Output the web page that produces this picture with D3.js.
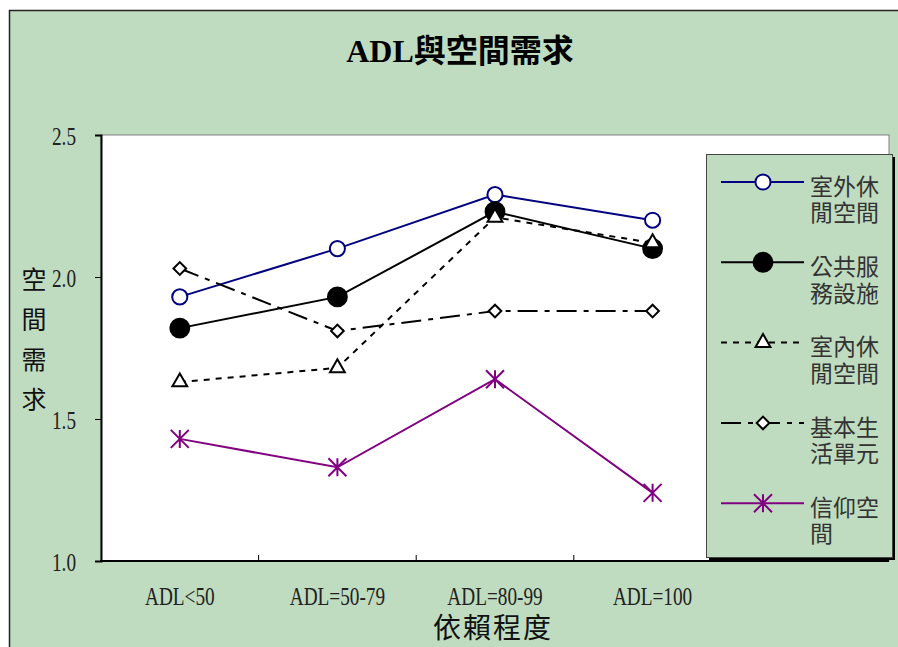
<!DOCTYPE html>
<html>
<head>
<meta charset="utf-8">
<script src="https://cdn.jsdelivr.net/npm/d3@7"></script>
<style>
  body { margin: 0; background: #fff; }
  svg { display: block; }
</style>
</head>
<body>
<svg id="chart" width="898" height="647"></svg>
<script>
// ---- data ----
const categories = ["ADL<50", "ADL=50-79", "ADL=80-99", "ADL=100"];
const seriesNames = ["室外休閒空間", "公共服務設施", "室內休閒空間", "基本生活單元", "信仰空間"];
const outdoorLeisure = [1.93, 2.10, 2.29, 2.20];
const publicService  = [1.82, 1.93, 2.23, 2.10];
const indoorLeisure  = [1.63, 1.68, 2.21, 2.12];
const basicLiving    = [2.03, 1.81, 1.88, 1.88];
const worship        = [1.43, 1.33, 1.64, 1.24];
const yTicks = [1.0, 1.5, 2.0, 2.5];
const chartTitle = "ADL與空間需求";
const xTitle = "依賴程度";
const yTitle = "空間需求";

// ---- look of each series ----
const starSymbol = {
  draw(ctx, size) {
    const r = Math.sqrt(size) / 2;
    ctx.moveTo(0, -r); ctx.lineTo(0, r);
    ctx.moveTo(-r, -r); ctx.lineTo(r, r);
    ctx.moveTo(-r, r); ctx.lineTo(r, -r);
  }
};
const styles = [
  { color: "#000080", dash: null,        symbol: d3.symbolCircle,   size: 180, fill: "#fff",  rotate: 0 },
  { color: "#000000", dash: null,        symbol: d3.symbolCircle,   size: 280, fill: "#000",  rotate: 0 },
  { color: "#000000", dash: "6,6",       symbol: d3.symbolTriangle, size: 95,  fill: "#fff",  rotate: 0 },
  { color: "#000000", dash: "20,7,5,7",  symbol: d3.symbolSquare,   size: 80,  fill: "#fff",  rotate: 45 },
  { color: "#800080", dash: null,        symbol: starSymbol,        size: 324, fill: "none",  rotate: 0 }
];
const seriesValues = [outdoorLeisure, publicService, indoorLeisure, basicLiving, worship];

const svg = d3.select("#chart");
const W = 898, H = 647;
const plot = { left: 101, top: 135, right: 889, bottom: 561 };
const green = "#c0dcc0";
const serif = "'Liberation Serif', 'Times New Roman', 'Noto Sans CJK TC', serif";
const cjk = "'Noto Sans CJK TC', 'Noto Sans CJK SC', sans-serif";

// chart area
svg.append("rect")
  .attr("x", 9.5).attr("y", 10.5)
  .attr("width", W + 20).attr("height", H + 20)
  .attr("fill", green).attr("stroke", "#222").attr("stroke-width", 1.5);

// title
svg.append("text")
  .attr("x", 460).attr("y", 62)
  .attr("text-anchor", "middle")
  .attr("font-family", serif)
  .attr("font-weight", "bold")
  .attr("font-size", 32)
  .attr("fill", "#000")
  .text(chartTitle);

// scales (one spare slot on the right of the category axis)
const x = d3.scaleBand()
  .domain(d3.range(categories.length + 1))
  .range([plot.left, plot.right])
  .paddingInner(0).paddingOuter(0);
const y = d3.scaleLinear()
  .domain([d3.min(yTicks), d3.max(yTicks)])
  .range([plot.bottom, plot.top]);

// plot area
svg.append("rect")
  .attr("x", plot.left).attr("y", plot.top)
  .attr("width", plot.right - plot.left).attr("height", plot.bottom - plot.top)
  .attr("fill", "#fff").attr("stroke", "#808080").attr("stroke-width", 1);

// y axis
const yAxis = svg.append("g")
  .attr("transform", `translate(${plot.left},0)`)
  .call(d3.axisLeft(y).tickValues(yTicks).tickFormat(d3.format(".1f")).tickSize(6).tickPadding(0));
yAxis.select(".domain").attr("stroke", "#000").attr("stroke-width", 2);
yAxis.selectAll(".tick line").attr("stroke", "#000").attr("stroke-width", 1);
yAxis.selectAll(".tick text")
  .attr("x", 0).attr("dy", "0.38em")
  .attr("transform", "translate(-25,0) scale(0.77,1)")
  .attr("font-family", serif).attr("font-size", 25).attr("fill", "#222");

// x axis: boundary ticks pointing inward, labels at band centres
const xAxis = svg.append("g").attr("transform", `translate(0,${plot.bottom})`);
xAxis.append("line")
  .attr("x1", plot.left - 1).attr("x2", plot.right)
  .attr("stroke", "#000").attr("stroke-width", 2);
xAxis.selectAll("line.bound")
  .data(x.domain().slice(1))
  .join("line")
  .attr("class", "bound")
  .attr("x1", d => x(d)).attr("x2", d => x(d))
  .attr("y1", 0).attr("y2", -6)
  .attr("stroke", "#000").attr("stroke-width", 1);
xAxis.selectAll("text.cat")
  .data(categories)
  .join("text")
  .attr("class", "cat")
  .attr("text-anchor", "middle")
  .attr("transform", (d, i) => `translate(${x(i) + x.bandwidth() / 2},44) scale(0.77,1)`)
  .attr("font-family", serif).attr("font-size", 25).attr("fill", "#222")
  .text(d => d);

// axis titles
svg.append("text")
  .attr("x", 493).attr("y", 638)
  .attr("text-anchor", "middle")
  .attr("font-family", cjk).attr("font-size", 28)
  .attr("letter-spacing", 2)
  .attr("fill", "#111")
  .text(xTitle);
svg.append("g").selectAll("text")
  .data(Array.from(yTitle))
  .join("text")
  .attr("x", 34).attr("y", (d, i) => 289 + i * 40)
  .attr("text-anchor", "middle")
  .attr("font-family", cjk).attr("font-size", 25)
  .attr("fill", "#111")
  .text(d => d);

// series lines and markers
const cx = i => x(i) + x.bandwidth() / 2;
const line = d3.line().x((d, i) => cx(i)).y(d => y(d));
seriesValues.forEach((vals, s) => {
  const st = styles[s];
  const g = svg.append("g");
  g.append("path")
    .datum(vals)
    .attr("d", line)
    .attr("fill", "none")
    .attr("stroke", st.color)
    .attr("stroke-width", 2)
    .attr("stroke-dasharray", st.dash);
  g.selectAll("path.mk")
    .data(vals)
    .join("path")
    .attr("class", "mk")
    .attr("d", d3.symbol(st.symbol, st.size))
    .attr("transform", (d, i) => `translate(${cx(i)},${y(d)}) rotate(${st.rotate})`)
    .attr("fill", st.fill)
    .attr("stroke", st.color)
    .attr("stroke-width", 2);
});

// legend
const legend = svg.append("g");
legend.append("rect")
  .attr("x", 709).attr("y", 157).attr("width", 186).attr("height", 403)
  .attr("fill", "#000");
legend.append("rect")
  .attr("x", 706.5).attr("y", 154.5).attr("width", 186).attr("height", 403)
  .attr("fill", green).attr("stroke", "#444").attr("stroke-width", 1);
seriesNames.forEach((name, s) => {
  const st = styles[s];
  const ly = 182 + s * 80.3;
  const item = legend.append("g");
  item.append("line")
    .attr("x1", 721).attr("x2", 804).attr("y1", ly).attr("y2", ly)
    .attr("stroke", st.color).attr("stroke-width", 2)
    .attr("stroke-dasharray", st.dash);
  item.append("path")
    .attr("d", d3.symbol(st.symbol, st.size))
    .attr("transform", `translate(763,${ly}) rotate(${st.rotate})`)
    .attr("fill", st.fill).attr("stroke", st.color).attr("stroke-width", 2);
  // label wrapped three characters per line
  const lines = [];
  for (let k = 0; k < name.length; k += 3) lines.push(name.slice(k, k + 3));
  item.append("text")
    .attr("font-family", cjk).attr("font-size", 23)
    .attr("fill", "#333")
    .selectAll("tspan")
    .data(lines)
    .join("tspan")
    .attr("x", 810).attr("y", (d, k) => ly + 12.6 + k * 26.6)
    .text(d => d);
});
</script>
</body>
</html>
